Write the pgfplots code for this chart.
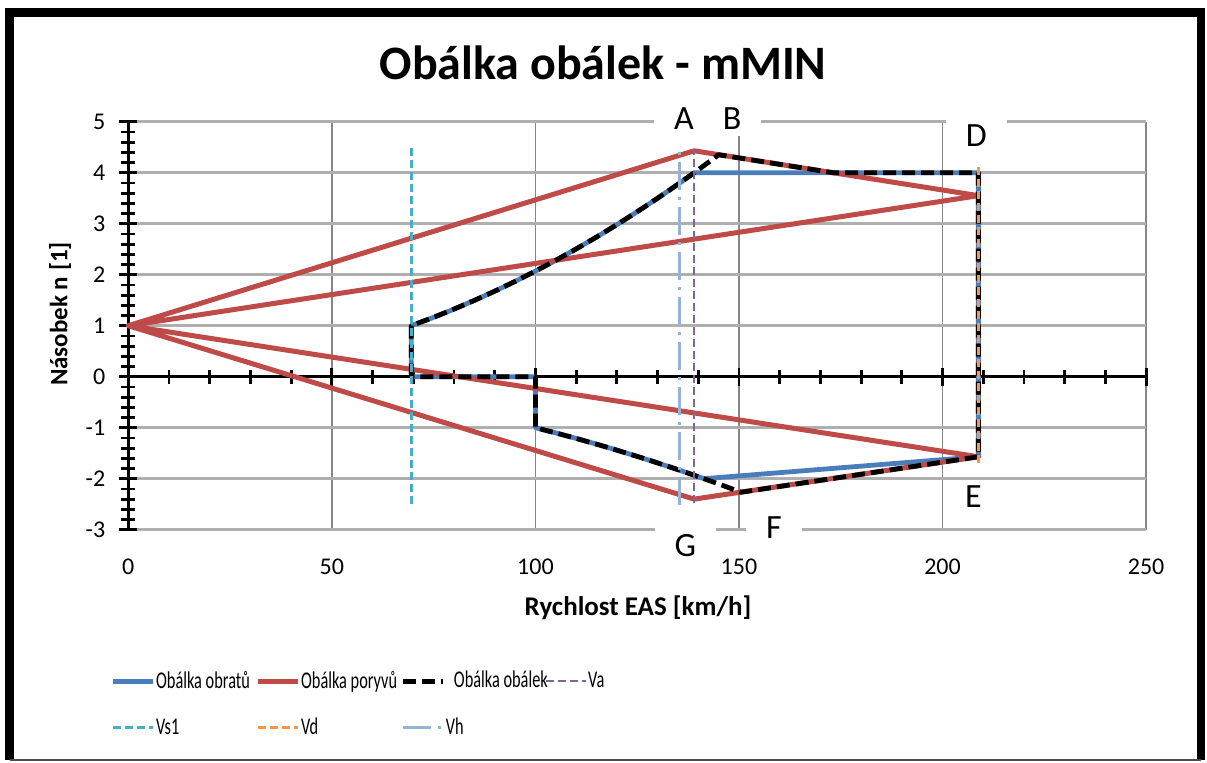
\documentclass[border=0pt]{standalone}
\usepackage{pgfplots}
\pgfplotsset{compat=1.18}
\usepackage{fontspec}
\setmainfont{Carlito}
\definecolor{cBlue}{RGB}{74,126,187}
\definecolor{cRed}{RGB}{190,75,72}
\definecolor{cPurple}{RGB}{128,100,162}
\definecolor{cTeal}{RGB}{75,172,198}
\definecolor{cOrange}{RGB}{247,150,70}
\definecolor{cVh}{RGB}{149,179,215}
\definecolor{gridX}{RGB}{134,134,134}
\definecolor{gridY}{RGB}{175,175,175}
\newcommand{\lgd}[1]{\makebox[49pt][l]{\scalebox{0.68}[1]{#1}}}
\begin{document}
\begin{tikzpicture}[line join=round]
\useasboundingbox (0,0) rectangle (603.5pt,381pt);
% frame
\draw[black, line width=4.25pt, line join=miter] (4.75pt,1pt) -- (4.75pt,374.75pt) -- (600.5pt,374.75pt) -- (600.5pt,1pt);
\draw[black!70, line width=0.6pt] (4.75pt,1pt) -- (600.5pt,1pt);
% title
\node[font=\fontsize{24}{28}\selectfont\bfseries] at (301.5pt,349.5pt) {Obálka obálek - mMIN};
% background axis: grid + tick labels + axis labels
\begin{axis}[
  at={(64.15pt,116.15pt)}, anchor=south west, scale only axis,
  width=508.9pt, height=204pt,
  xmin=0, xmax=250, ymin=-3, ymax=5,
  xtick={0,50,...,250}, ytick={-3,-2,...,5},
  grid=major,
  x grid style={gridX, line width=0.9pt},
  y grid style={gridY, line width=1.3pt},
  axis line style={draw=none},
  major tick style={draw=none},
  tick label style={font=\fontsize{12}{14}\selectfont},
  /pgf/number format/assume math mode=true,
  xticklabel style={yshift=-11pt},
  yticklabel style={xshift=-8pt},
  xlabel={Rychlost EAS [km/h]},
  ylabel={Násobek n [1]},
  every axis x label/.style={at={(axis description cs:0.5008,-0.192)}, anchor=center, font=\fontsize{13.5}{16}\selectfont\bfseries},
  every axis y label/.style={at={(axis description cs:-0.0671,0.5287)}, anchor=center, rotate=90, font=\fontsize{12.5}{15}\selectfont\bfseries},
]
\end{axis}
% foreground axis: axis lines through zero, ticks, data, legend
\begin{axis}[
  at={(64.15pt,116.15pt)}, anchor=south west, scale only axis,
  width=508.9pt, height=204pt,
  xmin=0, xmax=250, ymin=-3, ymax=5,
  axis lines=middle,
  axis line style={-, black, line width=1.75pt},
  xtick={0,50,...,250}, ytick={-3,-2,...,5},
  minor x tick num=4, minor y tick num=4,
  tick align=center,
  major tick length=9pt, minor tick length=7pt,
  tick style={black, line width=1.4pt},
  xticklabels={}, yticklabels={},
  hide obscured x ticks=false, hide obscured y ticks=false,
  clip=false,
  legend columns=4,
  legend cell align=left,
  legend style={draw=none, fill=none, at={(axis description cs:-0.018,-0.4284)}, anchor=west,
    inner xsep=0pt, inner ysep=0pt, font=\fontsize{12}{14}\selectfont,
    nodes={inner xsep=0.5pt, inner ysep=2pt}, row sep=9.5pt},
  legend image code/.code={\draw[#1] (0pt,0pt) -- (20pt,0pt);},
]
% Obalka obratu
\addplot[cBlue, line width=2.4pt] coordinates {
(69.5,0) (69.5,1) (75,1.1645) (80,1.3250) (85,1.4958) (90,1.6769) (95,1.8684)
(100,2.0703) (105,2.2825) (110,2.5050) (115,2.7380) (120,2.9812) (125,3.2349)
(130,3.4988) (135,3.7731) (139,4.0) (208.8,4.0) (208.8,-1.57) (141.4,-2.0)
(140,-1.96) (135,-1.8225) (130,-1.69) (125,-1.5625) (120,-1.44) (115,-1.3225)
(110,-1.21) (105,-1.1025) (100,-1) (100,0) (69.5,0)};
\addlegendentry{\lgd{Obálka obratů}}
% Obalka poryvu
\addplot[cRed, line width=2.5pt] coordinates {
(0,1) (139,4.43) (208.8,3.55) (0,1) (208.8,-1.57) (139,-2.40) (0,1)};
\addlegendentry{\lgd{Obálka poryvů}}
% Obalka obalek
\addplot[black, line width=2.4pt, dash pattern=on 6.5pt off 3pt] coordinates {
(69.5,0) (69.5,1) (75,1.1645) (80,1.3250) (85,1.4958) (90,1.6769) (95,1.8684)
(100,2.0703) (105,2.2825) (110,2.5050) (115,2.7380) (120,2.9812) (125,3.2349)
(130,3.4988) (135,3.7731) (139,4.0) (142,4.1746) (145,4.353) (173.1,4.0)
(208.8,4.0) (208.8,-1.57) (150.5,-2.265) (145,-2.1025) (140,-1.96) (135,-1.8225)
(130,-1.69) (125,-1.5625) (120,-1.44) (115,-1.3225) (110,-1.21) (105,-1.1025)
(100,-1) (100,0) (69.5,0)};
\addlegendentry{\makebox[49pt][l]{\hspace{4pt}\scalebox{0.68}[1]{Obálka obálek}}}
% Va
\addplot[cPurple, line width=1.1pt, dash pattern=on 4pt off 2pt] coordinates {(139,-2.47) (139,4.47)};
\addlegendentry{\lgd{Va}}
% Vs1
\addplot[cTeal, line width=1.5pt, dash pattern=on 4pt off 2pt] coordinates {(69.5,-2.49) (69.5,4.53)};
\addlegendentry{\lgd{Vs1}}
% Vd
\addplot[cOrange, line width=1.5pt, dash pattern=on 4pt off 2pt] coordinates {(208.8,-1.70) (208.8,4.18)};
\addlegendentry{\lgd{Vd}}
% Vh
\addplot[cVh, line width=1.5pt, dash pattern=on 14pt off 3.5pt on 1.5pt off 3.5pt] coordinates {(135.3,-2.52) (135.3,4.50)};
\addlegendentry{\lgd{Vh}}
% point labels
\begin{scope}[every node/.style={fill=white, inner xsep=10pt, inner ysep=3pt, font=\fontsize{17}{20}\selectfont}]
\node at (axis cs:136.5,5.06) {A};
\node at (axis cs:148.3,5.06) {B};
\node at (axis cs:208.3,4.73) {D};
\node at (axis cs:207.6,-2.36) {E};
\node at (axis cs:158.6,-2.96) {F};
\node at (axis cs:136.8,-3.31) {G};
\end{scope}
\end{axis}
\end{tikzpicture}
\end{document}
